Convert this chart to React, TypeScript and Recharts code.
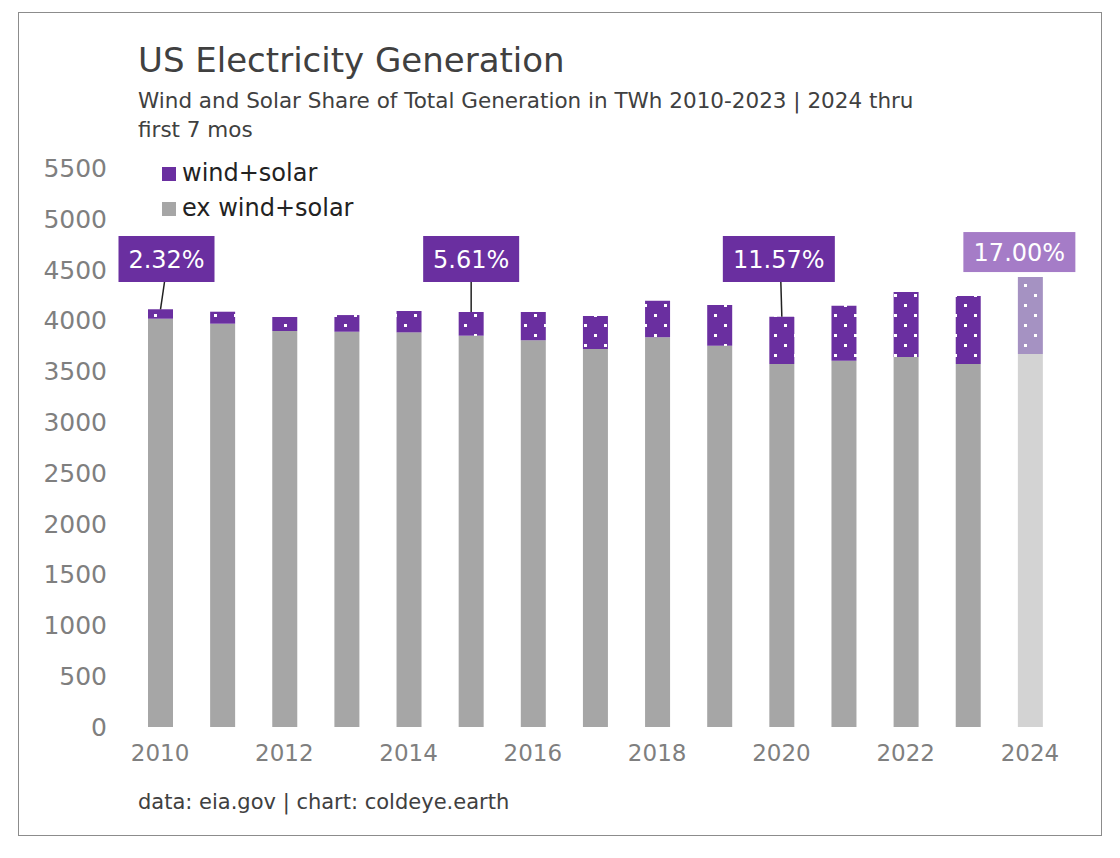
import React from "react";
import { BarChart, Bar, XAxis, YAxis, Cell, LabelList } from "recharts";

const years = ["2010","2011","2012","2013","2014","2015","2016","2017","2018","2019","2020","2021","2022","2023","2024"];
const exWindSolar = [4017,3968,3896,3889,3883,3850,3805,3719,3834,3752,3571,3604,3640,3571,3670];
const totals = [4110,4086,4034,4053,4093,4083,4083,4044,4194,4152,4037,4145,4280,4240,4427];
const shareLabels = ["2.32%","","","","","5.61%","","","","","11.57%","","","","17.00%"];
const yTicks = [0,500,1000,1500,2000,2500,3000,3500,4000,4500,5000,5500];

const data = years.map((y, i) => ({
  year: y,
  ex: exWindSolar[i],
  ws: totals[i] - exWindSolar[i],
  label: shareLabels[i],
}));

const FONT = "'DejaVu Sans', sans-serif";

const Callout = (props: any) => {
  const { x, y, width, index } = props;
  const lab = shareLabels[index];
  if (!lab) return null;
  const cx = x + width / 2;
  const last = index === years.length - 1;
  const bw = lab.length > 5 ? 112 : 96;
  const bh = last ? 40 : 46;
  const bx = index === 0 ? cx + 6 - bw / 2 : index === 10 ? cx - 3 - bw / 2 : last ? cx - 11 - bw / 2 : cx - bw / 2;
  const by = last ? y - 45 : 236;
  return (
    <g>
      {!last && <line x1={index === 0 ? cx + 4 : index === 10 ? cx - 1 : cx} y1={by + bh} x2={cx} y2={y} stroke="#222" strokeWidth={1.5} />}
      <rect x={bx} y={by} width={bw} height={bh} fill={last ? "#a57cc7" : "#6a2fa0"} />
      <text x={bx + bw / 2} y={by + bh / 2 + 9} textAnchor="middle" fill="#fff" fontSize={24} fontFamily={FONT}>{lab}</text>
    </g>
  );
};

export default function App() {
  return (
    <div style={{ position: "absolute", left: 0, top: 0, width: 1120, height: 858, background: "#fff", fontFamily: FONT }}>
      <div style={{ position: "absolute", left: 18, top: 12, width: 1082, height: 822, border: "1.5px solid #8c8c8c" }} />
      <div style={{ position: "absolute", left: 138, top: 40, fontSize: 34, color: "#404040" }}>US Electricity Generation</div>
      <div style={{ position: "absolute", left: 138, top: 86, fontSize: 21.5, color: "#404040", lineHeight: "29px", width: 900 }}>
        Wind and Solar Share of Total Generation in TWh 2010-2023 | 2024 thru<br />first 7 mos
      </div>
      <div style={{ position: "absolute", left: 162, top: 156, fontSize: 24, color: "#222", lineHeight: "35px" }}>
        <div><span style={{ display: "inline-block", width: 14, height: 14, background: "#6a2fa0", marginRight: 6 }} />wind+solar</div>
        <div><span style={{ display: "inline-block", width: 14, height: 14, background: "#a6a6a6", marginRight: 6 }} />ex wind+solar</div>
      </div>
      <div style={{ position: "absolute", left: 138, top: 790, fontSize: 21, color: "#404040" }}>data: eia.gov | chart: coldeye.earth</div>
      <div style={{ position: "absolute", left: 0, top: 0 }}>
        <BarChart width={1120} height={858} data={data} margin={{ top: 168, bottom: 91, left: 49, right: 59 }} barSize={25}>
          <defs>
            <pattern id="dots" width="20" height="20" patternUnits="userSpaceOnUse">
              <rect width="20" height="20" fill="#6a2fa0" />
              <rect x="4" y="4" width="3" height="3" fill="#fff" />
              <rect x="14" y="14" width="3" height="3" fill="#fff" />
            </pattern>
            <pattern id="dotsLight" width="20" height="20" patternUnits="userSpaceOnUse">
              <rect width="20" height="20" fill="#a592c2" />
              <rect x="4" y="4" width="3" height="3" fill="#fff" />
              <rect x="14" y="14" width="3" height="3" fill="#fff" />
            </pattern>
          </defs>
          <XAxis dataKey="year" axisLine={false} tickLine={false} interval={1} height={40}
            tick={{ fill: "#7f7f7f", fontSize: 23, fontFamily: FONT }} tickMargin={12} />
          <YAxis domain={[0, 5500]} ticks={yTicks} width={80} axisLine={false} tickLine={false} interval={0}
            tick={{ fill: "#7f7f7f", fontSize: 25, fontFamily: FONT }} tickMargin={16} />
          <Bar dataKey="ex" stackId="a" isAnimationActive={false}>
            {data.map((d, i) => <Cell key={i} fill={i === years.length - 1 ? "#d3d3d3" : "#a6a6a6"} />)}
          </Bar>
          <Bar dataKey="ws" stackId="a" isAnimationActive={false}>
            {data.map((d, i) => <Cell key={i} fill={i === years.length - 1 ? "url(#dotsLight)" : "url(#dots)"} />)}
            <LabelList dataKey="label" content={Callout} />
          </Bar>
        </BarChart>
      </div>
    </div>
  );
}
